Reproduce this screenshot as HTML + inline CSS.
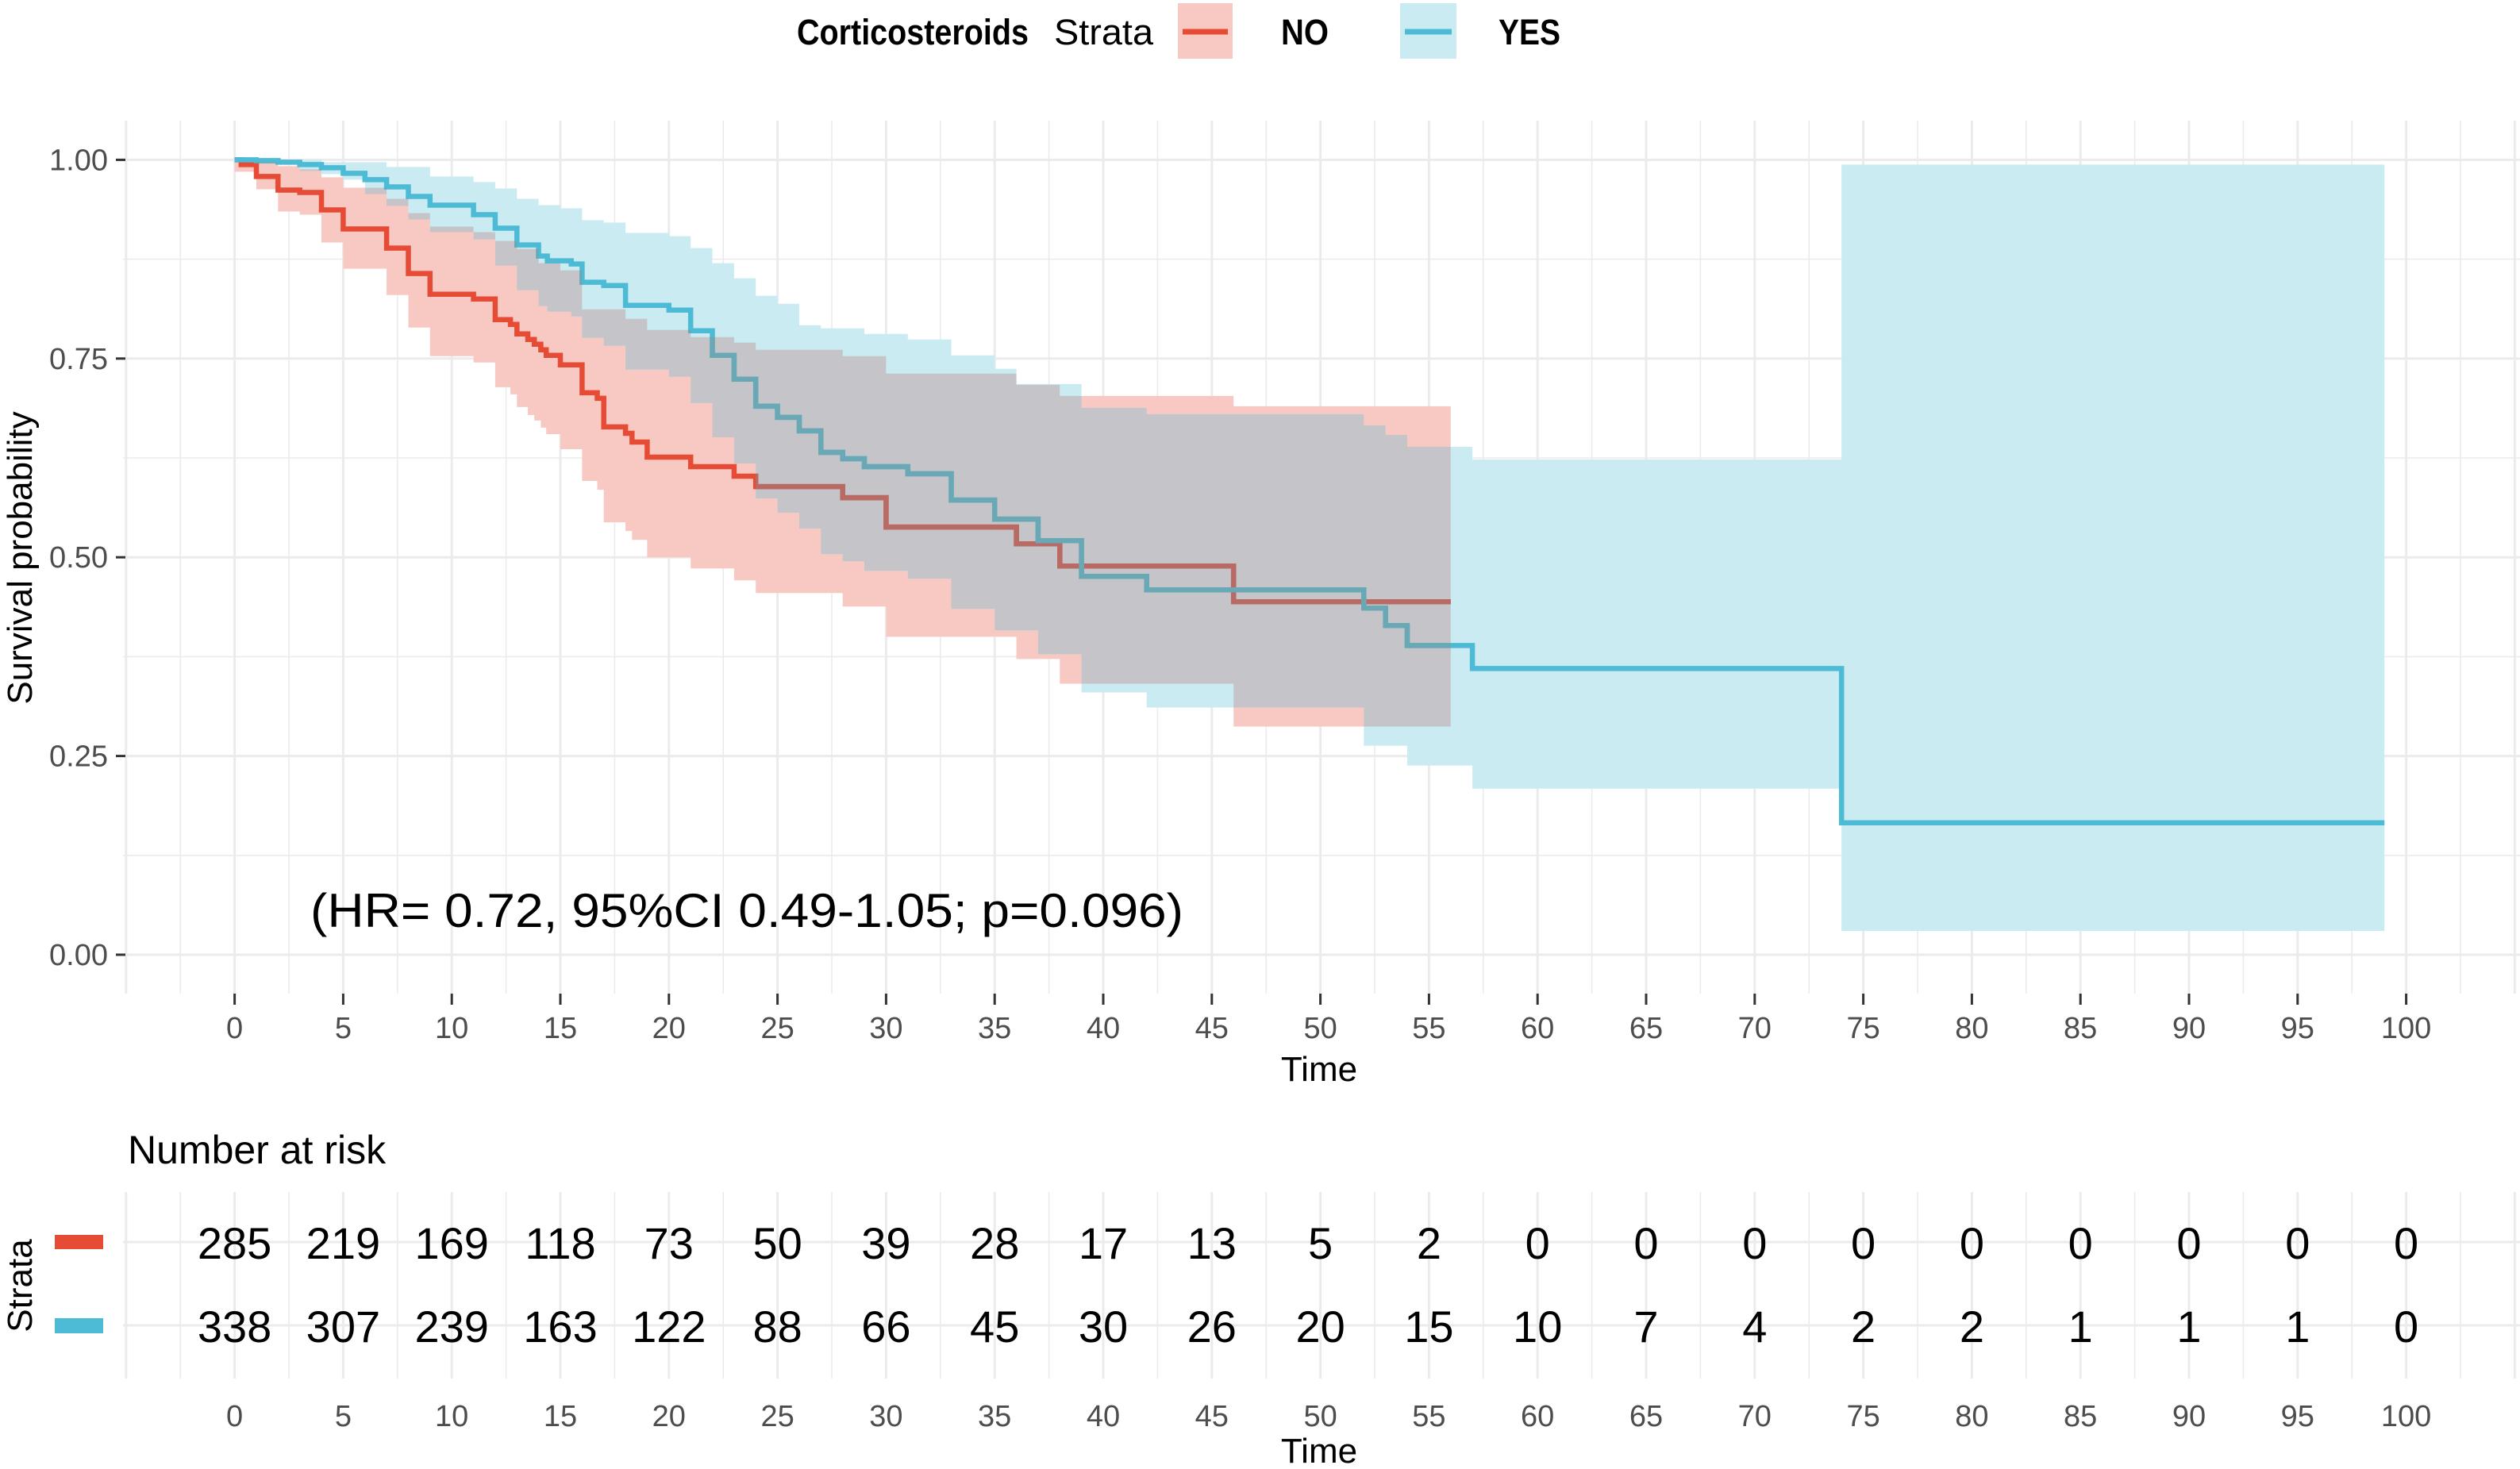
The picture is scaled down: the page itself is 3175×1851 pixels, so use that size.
<!DOCTYPE html>
<html><head><meta charset="utf-8"><style>
html,body{margin:0;padding:0;background:#fff;}
svg{display:block;font-family:"Liberation Sans",Arial,sans-serif;}
</style></head><body>
<svg id="chart" width="3175" height="1851" viewBox="0 0 3175 1851" xmlns="http://www.w3.org/2000/svg">
<defs></defs>
<g id="legend">
<text x="1004" y="56" font-size="45" font-weight="bold" fill="#000" textLength="292" lengthAdjust="spacingAndGlyphs">Corticosteroids</text>
<text x="1328" y="56" font-size="45" fill="#000" textLength="125" lengthAdjust="spacingAndGlyphs">Strata</text>
<rect x="1484" y="4" width="69" height="70" fill="#F7C9C2"/>
<line x1="1490" y1="40" x2="1547" y2="40" stroke="#E64B35" stroke-width="7"/>
<text x="1614" y="56" font-size="45" font-weight="bold" fill="#000" textLength="60" lengthAdjust="spacingAndGlyphs">NO</text>
<rect x="1764" y="4" width="71" height="70" fill="#CAEBF2"/>
<line x1="1770" y1="40" x2="1829" y2="40" stroke="#4DBBD5" stroke-width="7"/>
<text x="1888" y="56" font-size="45" font-weight="bold" fill="#000" textLength="78" lengthAdjust="spacingAndGlyphs">YES</text>
</g>
<g id="grid"></g>
<g id="marks"></g>
<g id="axes"></g>
<text x="391" y="1168" font-size="60" fill="#000" textLength="1100" lengthAdjust="spacingAndGlyphs">(HR= 0.72, 95%CI 0.49-1.05; p=0.096)</text>
<text x="1662" y="1362" font-size="44" text-anchor="middle" fill="#000">Time</text>
<text transform="translate(40,703) rotate(-90)" font-size="44" text-anchor="middle" fill="#000">Survival probability</text>
<text x="161" y="1466" font-size="50" fill="#000">Number at risk</text>
<text transform="translate(40,1620) rotate(-90)" font-size="44" text-anchor="middle" fill="#000">Strata</text>
<rect x="69" y="1556" width="61" height="18" fill="#E64B35"/>
<rect x="69" y="1661" width="61" height="19" fill="#4DBBD5"/>
<g id="risk"></g>
<text x="1662" y="1843" font-size="44" text-anchor="middle" fill="#000">Time</text>
</svg>
<script>
// ---- data ----
const noTimes = [0,0.3,1,2,3,4,5,7,8,9,11,12,12.7,13,13.5,13.8,14.1,14.35,15,16,16.7,17,18,18.3,19,21,23,24,28,30,36,38,46];
const noSurv = [1,0.994,0.979,0.962,0.959,0.937,0.913,0.889,0.857,0.831,0.825,0.799,0.793,0.781,0.774,0.768,0.761,0.754,0.742,0.707,0.700,0.664,0.656,0.645,0.626,0.614,0.602,0.589,0.575,0.538,0.517,0.489,0.444];
const noEnd = 56;
const noUpperTimes = [0,1,2,3,4,5,7,8,9,11,12,13,14,15,16,18,19,21,23,24,28,30,36,38,46];
const noUpper = [1,0.997,0.992,0.988,0.978,0.965,0.951,0.933,0.916,0.909,0.898,0.888,0.870,0.861,0.812,0.800,0.786,0.777,0.770,0.761,0.753,0.731,0.717,0.703,0.690];
const noLowerTimes = [0,1,2,3,4,5,7,8,9,11,12,12.7,13,13.5,13.8,14.1,14.35,15,16,16.7,17,18,18.3,19,21,23,24,28,30,36,38,46];
const noLower = [0.985,0.963,0.935,0.931,0.896,0.863,0.830,0.789,0.753,0.745,0.714,0.705,0.689,0.679,0.672,0.663,0.655,0.636,0.596,0.585,0.544,0.533,0.522,0.500,0.486,0.471,0.455,0.438,0.400,0.372,0.341,0.287];

const yesTimes = [0,1,2,3,4,5,6,7,8,9,11,12,13,14,14.4,15.5,16,17,18,20,21,22,23,24,25,26,27,28,29,31,33,35,37,39,42,52,53,54,57,74];
const yesSurv = [1,0.999,0.997,0.994,0.990,0.983,0.975,0.966,0.954,0.943,0.931,0.914,0.893,0.879,0.873,0.869,0.846,0.842,0.817,0.811,0.785,0.754,0.724,0.690,0.676,0.659,0.632,0.624,0.614,0.605,0.572,0.548,0.521,0.476,0.459,0.436,0.414,0.389,0.360,0.166];
const yesEnd = 99;
const yesUpperTimes = [0,4,7,9,11,12,13,14,15,16,17,18,20,21,22,23,24,25,26,27,29,31,33,35,36,39,42,52,53,54,57,74];
const yesUpper = [1,0.997,0.991,0.979,0.972,0.964,0.951,0.943,0.939,0.924,0.921,0.908,0.904,0.889,0.870,0.851,0.829,0.819,0.792,0.788,0.781,0.774,0.754,0.737,0.718,0.688,0.680,0.666,0.654,0.639,0.623,0.994];
const yesLowerTimes = [0,1,3,4,5,6,7,8,9,11,12,13,14,14.4,15.5,16,17,18,20,21,22,23,24,25,26,27,28,29,31,33,35,37,39,42,52,54,57,74];
const yesLower = [1,0.995,0.986,0.982,0.975,0.957,0.942,0.925,0.909,0.900,0.867,0.836,0.816,0.809,0.803,0.776,0.766,0.736,0.727,0.694,0.651,0.618,0.574,0.556,0.536,0.504,0.495,0.483,0.473,0.435,0.408,0.378,0.330,0.311,0.263,0.238,0.209,0.030];

const xTicks = [0,5,10,15,20,25,30,35,40,45,50,55,60,65,70,75,80,85,90,95,100];
const yTicks = [0,0.25,0.5,0.75,1];
const yTickLabels = ["0.00","0.25","0.50","0.75","1.00"];
const riskNo = [285,219,169,118,73,50,39,28,17,13,5,2,0,0,0,0,0,0,0,0,0];
const riskYes = [338,307,239,163,122,88,66,45,30,26,20,15,10,7,4,2,2,1,1,1,0];

// ---- scales ----
const NS = "http://www.w3.org/2000/svg";
const X0 = 295.6, XK = 27.36;
const Y1 = 201.4, Y0 = 1203;
function xs(t){ return X0 + t*XK; }
function ys(s){ return Y0 - s*(Y0-Y1); }
function mk(tag, attrs, parent){ const e=document.createElementNS(NS,tag); for(const k in attrs) e.setAttribute(k,attrs[k]); parent.appendChild(e); return e; }
const svg = document.getElementById('chart');
const defs = svg.querySelector('defs');
const grid = document.getElementById('grid');
const marks = document.getElementById('marks');
const axes = document.getElementById('axes');
const risk = document.getElementById('risk');

// ---- grid ----
const PL = 155, PR = 3175, PT = 152, PB = 1252;
mk('rect',{x:PL,y:PT,width:PR-PL,height:PB-PT,fill:'#fff'},grid);
for(let t=-5; t<=105; t+=2.5){
  const major = (t%5===0);
  const l = mk('line',{x1:xs(t),x2:xs(t),y1:PT,y2:PB,stroke:'#EBEBEB','stroke-width':major?3:1.6},grid);
  
  
  const l2 = mk('line',{x1:xs(t),x2:xs(t),y1:1502,y2:1737,stroke:'#EBEBEB','stroke-width':major?3:1.6},grid);
  
  
}
for(let s=0; s<=1.0001; s+=0.125){
  const major = Math.abs(s*4-Math.round(s*4))<1e-6;
  const l = mk('line',{x1:PL,x2:PR,y1:ys(s),y2:ys(s),stroke:'#EBEBEB','stroke-width':major?3:1.6},grid);
  
  
}
[1565,1670].forEach(y=>{
  const l = mk('line',{x1:PL,x2:PR,y1:y,y2:y,stroke:'#EBEBEB','stroke-width':3},grid);
  
  
});

// ---- paths ----
function stepPath(times, vals, end){
  let d = 'M'+xs(times[0]).toFixed(1)+','+ys(vals[0]).toFixed(1);
  for(let i=0;i<times.length;i++){
    const tn = (i+1<times.length)?times[i+1]:end;
    d += ' H'+xs(tn).toFixed(1);
    if(i+1<times.length) d += ' V'+ys(vals[i+1]).toFixed(1);
  }
  return d;
}
function stepPts(times, vals, end){
  const p=[];
  for(let i=0;i<times.length;i++){
    const tn=(i+1<times.length)?times[i+1]:end;
    p.push([xs(times[i]),ys(vals[i])]); p.push([xs(tn),ys(vals[i])]);
  }
  return p;
}
function bandPath(ut,uv,lt,lv,end){
  const up=stepPts(ut,uv,end), lo=stepPts(lt,lv,end).reverse();
  return 'M'+up.concat(lo).map(p=>p[0].toFixed(1)+','+p[1].toFixed(1)).join(' L')+' Z';
}
const noBandD = bandPath(noUpperTimes,noUpper,noLowerTimes,noLower,noEnd);
const yesBandD = bandPath(yesUpperTimes,yesUpper,yesLowerTimes,yesLower,yesEnd);
const cp1 = mk('clipPath',{id:'clipNo'},defs); mk('path',{d:noBandD},cp1);
const cp2 = mk('clipPath',{id:'clipYes'},defs); mk('path',{d:yesBandD},cp2);

const b1 = mk('path',{d:noBandD,fill:'#F7C9C2'},marks);


const b2 = mk('path',{d:yesBandD,fill:'#CAEBF2'},marks);


const og = mk('g',{'clip-path':'url(#clipNo)'},marks);
const ov = mk('path',{d:yesBandD,fill:'#C4C4C9'},og);



const noD = stepPath(noTimes,noSurv,noEnd);
const yesD = stepPath(yesTimes,yesSurv,yesEnd);
const c1 = mk('path',{d:noD,fill:'none',stroke:'#E64B35','stroke-width':6.5},marks);


const c2 = mk('path',{d:yesD,fill:'none',stroke:'#4DBBD5','stroke-width':6.5},marks);


const og2 = mk('g',{'clip-path':'url(#clipNo)'},marks);
const og3 = mk('g',{'clip-path':'url(#clipYes)'},og2);
mk('path',{d:noD,fill:'none',stroke:'#B86B64','stroke-width':6.5},og3);
mk('path',{d:yesD,fill:'none',stroke:'#6AA8B6','stroke-width':6.5},og3);

// ---- axes ----
xTicks.forEach((t,i)=>{
  const tk = mk('line',{x1:xs(t),x2:xs(t),y1:1252,y2:1266,stroke:'#333','stroke-width':3},axes);
  
  
  const tx = mk('text',{x:xs(t),y:1308,'font-size':38,'text-anchor':'middle',fill:'#4D4D4D'},axes);
  tx.textContent = String(t);
  
  
  const tx2 = mk('text',{x:xs(t),y:1797,'font-size':38,'text-anchor':'middle',fill:'#4D4D4D'},axes);
  tx2.textContent = String(t);
  
  
  const r1 = mk('text',{x:xs(t),y:1586,'font-size':56,'text-anchor':'middle',fill:'#000'},risk);
  r1.textContent = String(riskNo[i]);
  
  
  const r2 = mk('text',{x:xs(t),y:1691,'font-size':56,'text-anchor':'middle',fill:'#000'},risk);
  r2.textContent = String(riskYes[i]);
  
  
});
yTicks.forEach((s,i)=>{
  const tk = mk('line',{x1:146,x2:158,y1:ys(s),y2:ys(s),stroke:'#333','stroke-width':3},axes);
  
  
  const tx = mk('text',{x:136,y:ys(s)+13,'font-size':38,'text-anchor':'end',fill:'#4D4D4D'},axes);
  tx.textContent = yTickLabels[i];
  
  
});
</script>
</body></html>
